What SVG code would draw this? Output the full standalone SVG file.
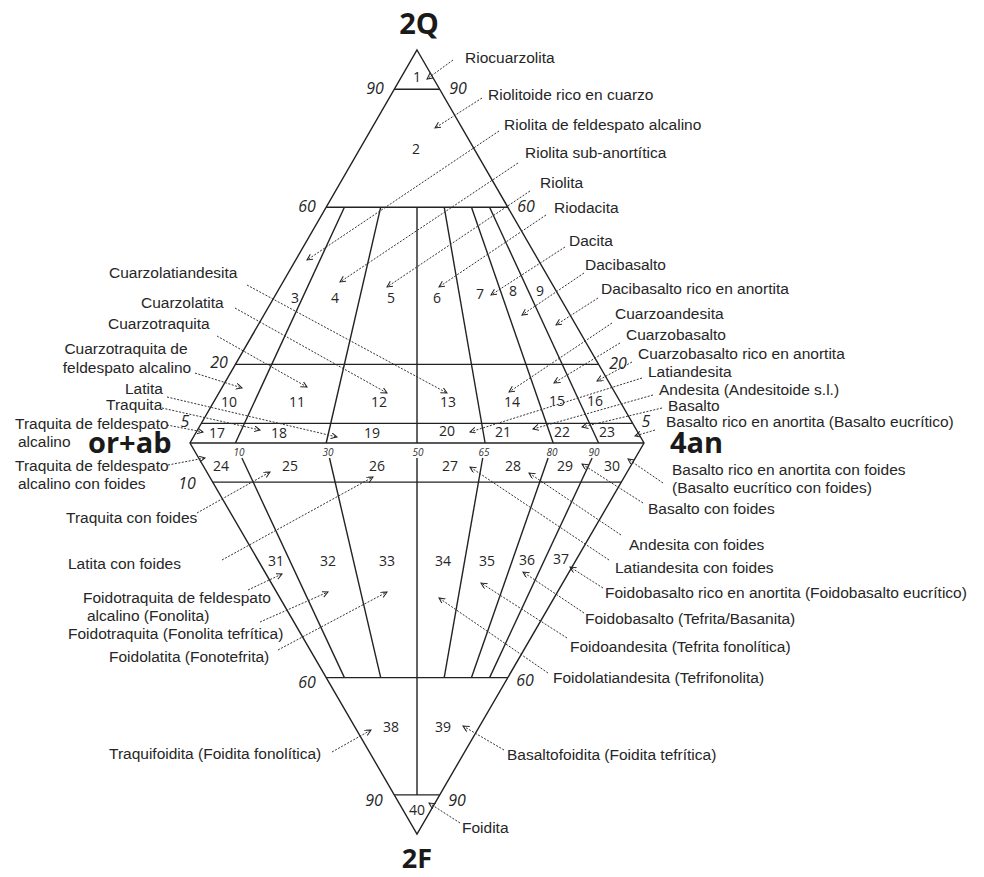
<svg xmlns="http://www.w3.org/2000/svg" width="984" height="877" viewBox="0 0 984 877">
<style>
.frame{fill:none;stroke:#222;stroke-width:1.4}
.lbl{font-family:"Liberation Sans",Arial,sans-serif;font-size:15.5px;fill:#262626}
.num{font-family:"Open Sans","DejaVu Sans",sans-serif;font-size:14px;fill:#262626;text-anchor:middle}
.sc{font-family:"Open Sans","DejaVu Sans",sans-serif;font-size:16px;font-style:italic;fill:#262626;text-anchor:middle}
.sm{font-family:"Open Sans","DejaVu Sans",sans-serif;font-size:10px;font-style:italic;fill:#333;text-anchor:middle}
.big{font-family:"Open Sans","DejaVu Sans",sans-serif;font-size:29px;font-weight:bold;fill:#1a1a1a}
.con line{stroke:#333;stroke-width:1;stroke-dasharray:2 1.5;marker-end:url(#ah)}
</style>
<defs>
<marker id="ah" markerUnits="userSpaceOnUse" markerWidth="9" markerHeight="9" refX="6" refY="3" orient="auto">
<path d="M0,0 L6,3 L0,6" fill="none" stroke="#222" stroke-width="1"/>
</marker>
</defs>
<rect width="984" height="877" fill="#fff"/>

<g id="diagram-frame" class="frame">
<path d="M417,50 L644,443 L417,834 L190,443 Z"/>
<line x1="394.3" y1="89.3" x2="439.7" y2="89.3"/>
<line x1="326.2" y1="207.2" x2="507.8" y2="207.2"/>
<line x1="235.4" y1="364.4" x2="598.6" y2="364.4"/>
<line x1="201.4" y1="423.4" x2="632.6" y2="423.4"/>
<line x1="190" y1="443" x2="644" y2="443"/>
<line x1="212.7" y1="482.1" x2="621.3" y2="482.1"/>
<line x1="326.2" y1="677.6" x2="507.8" y2="677.6"/>
<line x1="394.3" y1="794.9" x2="439.7" y2="794.9"/>
<line x1="344.4" y1="207.2" x2="235.4" y2="443"/>
<line x1="380.7" y1="207.2" x2="326.2" y2="443"/>
<line x1="417" y1="207.2" x2="417" y2="443"/>
<line x1="444.2" y1="207.2" x2="485.1" y2="443"/>
<line x1="471.5" y1="207.2" x2="553.2" y2="443"/>
<line x1="489.6" y1="207.2" x2="598.6" y2="443"/>
<line x1="241.9" y1="458" x2="344.4" y2="677.6"/>
<line x1="329.5" y1="458" x2="380.7" y2="677.6"/>
<line x1="417" y1="458" x2="417" y2="794.9"/>
<line x1="482.7" y1="458" x2="444.2" y2="677.6"/>
<line x1="548.1" y1="458" x2="471.5" y2="677.6"/>
<line x1="592.1" y1="458" x2="489.6" y2="677.6"/>
</g>

<g id="axis-labels">
<text class="big" x="419" y="34" text-anchor="middle">2Q</text>
<text class="big" x="417" y="868" text-anchor="middle" style="font-size:27px">2F</text>
<text class="big" x="88" y="453">or+ab</text>
<text class="big" x="670" y="453">4an</text>
</g>

<g id="scale-labels">
<text class="sc" x="375" y="94">90</text>
<text class="sc" x="458" y="94">90</text>
<text class="sc" x="307" y="212">60</text>
<text class="sc" x="526" y="212">60</text>
<text class="sc" x="219" y="368">20</text>
<text class="sc" x="618" y="369">20</text>
<text class="sc" x="185" y="427">5</text>
<text class="sc" x="646" y="427">5</text>
<text class="sc" x="187" y="489">10</text>
<text class="sc" x="307" y="688">60</text>
<text class="sc" x="525" y="686">60</text>
<text class="sc" x="374" y="806">90</text>
<text class="sc" x="457" y="806">90</text>
<text class="sm" x="239" y="456">10</text>
<text class="sm" x="328" y="456">30</text>
<text class="sm" x="418" y="456">50</text>
<text class="sm" x="484" y="456">65</text>
<text class="sm" x="552" y="456">80</text>
<text class="sm" x="594" y="456">90</text>
</g>

<g id="regions">
<text id="r1" class="num" x="417" y="82">1</text>
<text id="r2" class="num" x="416" y="154">2</text>
<text id="r3" class="num" x="295" y="303">3</text>
<text id="r4" class="num" x="335" y="303">4</text>
<text id="r5" class="num" x="391" y="303">5</text>
<text id="r6" class="num" x="437" y="303">6</text>
<text id="r7" class="num" x="480" y="299">7</text>
<text id="r8" class="num" x="513" y="296">8</text>
<text id="r9" class="num" x="540" y="296">9</text>
<text id="r10" class="num" x="229" y="407">10</text>
<text id="r11" class="num" x="297" y="407">11</text>
<text id="r12" class="num" x="379" y="407">12</text>
<text id="r13" class="num" x="448" y="407">13</text>
<text id="r14" class="num" x="512" y="407">14</text>
<text id="r15" class="num" x="557" y="406">15</text>
<text id="r16" class="num" x="595" y="406">16</text>
<text id="r17" class="num" x="217" y="438">17</text>
<text id="r18" class="num" x="279" y="438">18</text>
<text id="r19" class="num" x="372" y="438">19</text>
<text id="r20" class="num" x="447" y="436">20</text>
<text id="r21" class="num" x="503" y="437">21</text>
<text id="r22" class="num" x="562" y="437">22</text>
<text id="r23" class="num" x="607" y="437">23</text>
<text id="r24" class="num" x="221" y="471">24</text>
<text id="r25" class="num" x="290" y="471">25</text>
<text id="r26" class="num" x="377" y="471">26</text>
<text id="r27" class="num" x="450" y="471">27</text>
<text id="r28" class="num" x="513" y="471">28</text>
<text id="r29" class="num" x="565" y="471">29</text>
<text id="r30" class="num" x="612" y="471">30</text>
<text id="r31" class="num" x="276" y="566">31</text>
<text id="r32" class="num" x="328" y="566">32</text>
<text id="r33" class="num" x="387" y="566">33</text>
<text id="r34" class="num" x="443" y="566">34</text>
<text id="r35" class="num" x="487" y="566">35</text>
<text id="r36" class="num" x="527" y="565">36</text>
<text id="r37" class="num" x="561" y="564">37</text>
<text id="r38" class="num" x="391" y="732">38</text>
<text id="r39" class="num" x="443" y="732">39</text>
<text id="r40" class="num" x="417" y="815">40</text>
</g>

<g id="names-right" class="lbl">
<text x="465" y="63">Riocuarzolita</text>
<text x="488" y="100">Riolitoide rico en cuarzo</text>
<text x="504" y="130">Riolita de feldespato alcalino</text>
<text x="525" y="158">Riolita sub-anortítica</text>
<text x="540" y="188">Riolita</text>
<text x="554" y="213">Riodacita</text>
<text x="569" y="246">Dacita</text>
<text x="585" y="270">Dacibasalto</text>
<text x="601" y="294">Dacibasalto rico en anortita</text>
<text x="615" y="319">Cuarzoandesita</text>
<text x="626" y="340">Cuarzobasalto</text>
<text x="638" y="359">Cuarzobasalto rico en anortita</text>
<text x="648" y="377">Latiandesita</text>
<text x="659" y="395">Andesita (Andesitoide s.l.)</text>
<text x="668" y="411">Basalto</text>
<text x="666" y="427">Basalto rico en anortita (Basalto eucrítico)</text>
<text x="672" y="475">Basalto rico en anortita con foides</text>
<text x="672" y="493">(Basalto eucrítico con foides)</text>
<text x="648" y="514">Basalto con foides</text>
<text x="629" y="550">Andesita con foides</text>
<text x="615" y="573">Latiandesita con foides</text>
<text x="605" y="598">Foidobasalto rico en anortita (Foidobasalto eucrítico)</text>
<text x="585" y="624">Foidobasalto (Tefrita/Basanita)</text>
<text x="570" y="652">Foidoandesita (Tefrita fonolítica)</text>
<text x="553" y="683">Foidolatiandesita (Tefrifonolita)</text>
<text x="507" y="760">Basaltofoidita (Foidita tefrítica)</text>
<text x="462" y="833">Foidita</text>
</g>

<g id="names-left" class="lbl">
<text x="109" y="278">Cuarzolatiandesita</text>
<text x="141" y="308">Cuarzolatita</text>
<text x="108" y="329">Cuarzotraquita</text>
<text x="126" y="354" text-anchor="middle">Cuarzotraquita de</text>
<text x="127" y="373" text-anchor="middle">feldespato alcalino</text>
<text x="125" y="394">Latita</text>
<text x="106" y="410">Traquita</text>
<text x="15" y="429">Traquita de feldespato</text>
<text x="18" y="447">alcalino</text>
<text x="15" y="471">Traquita de feldespato</text>
<text x="18" y="489">alcalino con foides</text>
<text x="66" y="523">Traquita con foides</text>
<text x="68" y="569">Latita con foides</text>
<text x="83" y="603">Foidotraquita de feldespato</text>
<text x="87" y="621">alcalino (Fonolita)</text>
<text x="68" y="639">Foidotraquita (Fonolita tefrítica)</text>
<text x="109" y="662">Foidolatita (Fonotefrita)</text>
<text x="109" y="759">Traquifoidita (Foidita fonolítica)</text>
</g>

<g id="connectors" class="con">
<line x1="453" y1="60" x2="427" y2="79"/>
<line x1="482" y1="98" x2="435" y2="128"/>
<line x1="499" y1="131" x2="307" y2="260"/>
<line x1="518" y1="163" x2="340" y2="282"/>
<line x1="530" y1="191" x2="387" y2="287"/>
<line x1="546" y1="215" x2="439" y2="287"/>
<line x1="565" y1="247" x2="491" y2="295"/>
<line x1="584" y1="273" x2="522" y2="315"/>
<line x1="598" y1="298" x2="556" y2="325"/>
<line x1="612" y1="323" x2="509" y2="392"/>
<line x1="620" y1="343" x2="554" y2="383"/>
<line x1="632" y1="362" x2="597" y2="381"/>
<line x1="642" y1="378" x2="470" y2="432"/>
<line x1="653" y1="395" x2="533" y2="429"/>
<line x1="662" y1="408" x2="582" y2="427"/>
<line x1="655" y1="430" x2="635" y2="436"/>
<line x1="663" y1="483" x2="628" y2="459"/>
<line x1="643" y1="503" x2="582" y2="464"/>
<line x1="621" y1="535" x2="529" y2="473"/>
<line x1="609" y1="560" x2="470" y2="467"/>
<line x1="603" y1="588" x2="570" y2="567"/>
<line x1="584" y1="613" x2="523" y2="572"/>
<line x1="567" y1="638" x2="481" y2="583"/>
<line x1="548" y1="673" x2="439" y2="598"/>
<line x1="504" y1="750" x2="463" y2="726"/>
<line x1="460" y1="823" x2="429" y2="803"/>
<line x1="247" y1="285" x2="447" y2="393"/>
<line x1="235" y1="308" x2="387" y2="393"/>
<line x1="217" y1="336" x2="307" y2="387"/>
<line x1="195" y1="373" x2="242" y2="388"/>
<line x1="167" y1="397" x2="337" y2="437"/>
<line x1="162" y1="408" x2="260" y2="430"/>
<line x1="167" y1="425" x2="203" y2="432"/>
<line x1="168" y1="465" x2="205" y2="458"/>
<line x1="197" y1="513" x2="270" y2="472"/>
<line x1="222" y1="560" x2="373" y2="477"/>
<line x1="248" y1="590" x2="282" y2="574"/>
<line x1="260" y1="622" x2="328" y2="592"/>
<line x1="278" y1="650" x2="387" y2="592"/>
<line x1="332" y1="752" x2="371" y2="730"/>
</g>
</svg>
